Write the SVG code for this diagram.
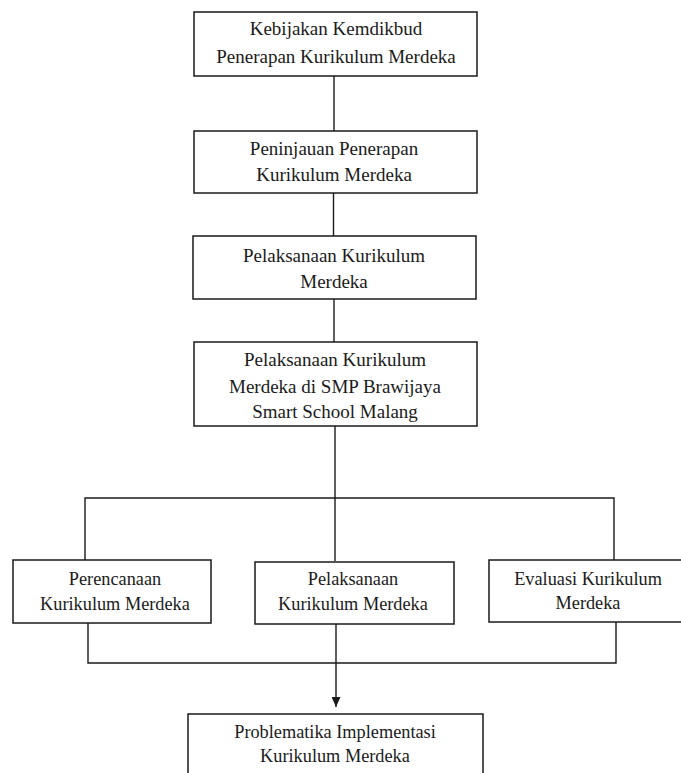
<svg xmlns="http://www.w3.org/2000/svg" width="681" height="773" viewBox="0 0 681 773">
<defs>
<style>
.box{fill:#fff;stroke:#1a1a1a;stroke-width:1.5}
.t{font-family:"Liberation Serif","Times New Roman",serif;font-size:19px;fill:#1a1a1a;text-anchor:middle}
.s{font-size:18.3px}
.c{fill:none;stroke:#1a1a1a;stroke-width:1.4}
</style>
<marker id="arr" markerWidth="10" markerHeight="9" refX="10" refY="4.5" orient="auto" markerUnits="userSpaceOnUse">
<path d="M0,0 L10,4.5 L0,9 Z" fill="#1a1a1a"/>
</marker>
</defs>
<rect width="681" height="773" fill="#fff"/>
<g id="connectors">
<line class="c" x1="334" y1="76" x2="334" y2="131"/>
<line class="c" x1="333.5" y1="193" x2="333.5" y2="236"/>
<line class="c" x1="334" y1="299" x2="334" y2="342"/>
<line class="c" x1="335" y1="426" x2="335" y2="561"/>
<polyline class="c" points="85,560 85,498 614,498 614,560"/>
<polyline class="c" points="88,623 88,663 616,663 616,622"/>
<line class="c" x1="336" y1="624" x2="336" y2="707" marker-end="url(#arr)"/>
</g>
<g id="n1">
<rect class="box" x="194" y="12" width="283" height="64"/>
<text class="t" x="336" y="35">Kebijakan Kemdikbud</text>
<text class="t" x="336" y="63">Penerapan Kurikulum Merdeka</text>
</g>
<g id="n2">
<rect class="box" x="194" y="131" width="283" height="62"/>
<text class="t" x="334" y="155">Peninjauan Penerapan</text>
<text class="t" x="334" y="181">Kurikulum Merdeka</text>
</g>
<g id="n3">
<rect class="box" x="193" y="236" width="283" height="63"/>
<text class="t" x="334" y="262">Pelaksanaan Kurikulum</text>
<text class="t" x="334" y="288">Merdeka</text>
</g>
<g id="n4">
<rect class="box" x="194" y="342" width="283" height="84"/>
<text class="t" x="335" y="366">Pelaksanaan Kurikulum</text>
<text class="t" x="335" y="393">Merdeka di SMP Brawijaya</text>
<text class="t" x="335" y="418">Smart School Malang</text>
</g>
<g id="n5">
<rect class="box" x="13" y="560" width="198" height="63"/>
<text class="t s" x="115" y="585">Perencanaan</text>
<text class="t s" x="115" y="610">Kurikulum Merdeka</text>
</g>
<g id="n6">
<rect class="box" x="255" y="562" width="199" height="62"/>
<text class="t s" x="353" y="585">Pelaksanaan</text>
<text class="t s" x="353" y="610">Kurikulum Merdeka</text>
</g>
<g id="n7">
<rect class="box" x="489" y="560" width="200" height="62"/>
<text class="t s" x="588" y="585">Evaluasi Kurikulum</text>
<text class="t s" x="588" y="609">Merdeka</text>
</g>
<g id="n8">
<rect class="box" x="188" y="714" width="295" height="80"/>
<text class="t s" x="335" y="738">Problematika Implementasi</text>
<text class="t s" x="335" y="762">Kurikulum Merdeka</text>
</g>
</svg>
